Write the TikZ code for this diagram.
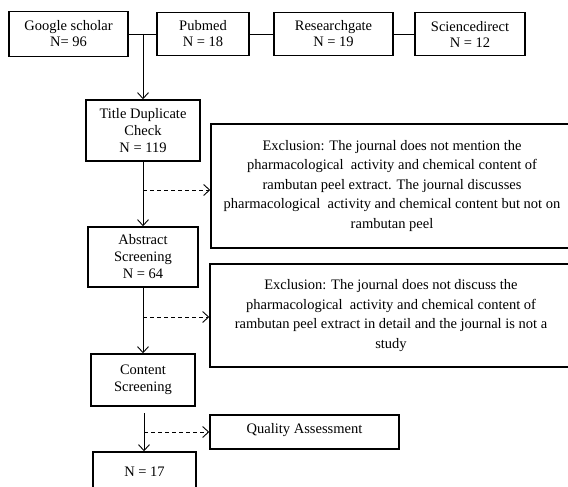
\documentclass[tikz,border=0pt]{standalone}
\usepackage{fontspec}
\setmainfont{Liberation Serif}
\usetikzlibrary{arrows.meta}

\tikzset{
  srcbox/.style={draw, line width=1.5pt, align=center, inner sep=0pt,
    font=\fontsize{14.5}{16}\selectfont},
  stagebox/.style={draw, line width=1.5pt, align=center, inner sep=0pt,
    font=\fontsize{14.5}{17}\selectfont},
  exclbox/.style={draw, line width=1.5pt, align=center, inner sep=0pt,
    font=\fontsize{14.5}{19.5}\selectfont},
  link/.style={line width=0.9pt},
  flow/.style={line width=0.9pt, -{Straight Barb[length=6pt,width=11pt]}},
  exflow/.style={flow, dash pattern=on 4pt off 3pt},
}

\begin{document}
\begin{tikzpicture}[x=1pt,y=-1pt]
  \fill[white] (0,0) rectangle (568,487);
  \clip (0,0) rectangle (568,487);

  \node[srcbox, minimum width=119pt, minimum height=45pt] (google) at (68.5,34) {Google scholar\\N= 96};
  \node[srcbox, minimum width=92pt, minimum height=43pt] (pubmed) at (203,34) {Pubmed\\N = 18};
  \node[srcbox, minimum width=119pt, minimum height=43pt] (research) at (333.5,34) {Researchgate\\N = 19};
  \node[srcbox, minimum width=110pt, minimum height=43pt] (science) at (470,34) {Sciencedirect\\N = 12};

  \draw[link] (google) -- (pubmed);
  \draw[link] (pubmed) -- (research);
  \draw[link] (research) -- (science);

  \node[stagebox, minimum width=114pt, minimum height=61pt] (title) at (143,130.5) {Title Duplicate\\Check\\N = 119};
  \node[stagebox, minimum width=110pt, minimum height=60pt] (abstract) at (143,257) {Abstract\\Screening\\N = 64};
  \node[stagebox, minimum width=104pt, minimum height=52pt] (content) at (143,380) {Content\\Screening};
  \node[stagebox, minimum width=103pt, minimum height=40pt] (final) at (144.5,472) {N = 17};

  \node[exclbox, minimum width=362pt, minimum height=124pt] (excl1) at (392,186)
    {Exclusion: The journal does not mention the\\pharmacological\ \ activity and chemical content of\\rambutan peel extract. The journal discusses\\pharmacological\ \ activity and chemical content but not on\\rambutan peel};
  \node[exclbox, minimum width=362pt, minimum height=103pt] (excl2) at (391,315.5)
    {Exclusion: The journal does not discuss the\\pharmacological\ \ activity and chemical content of\\rambutan peel extract in detail and the journal is not a\\study};
  \node[stagebox, minimum width=189pt, text height=14pt, text depth=12pt, inner ysep=4pt] (quality) at (304.5,432) {Quality Assessment};

  \coordinate (join) at (143,34);
  \draw[flow] (join) -- (title);
  \draw[flow] (title) -- (abstract);
  \draw[flow] (abstract) -- (content);
  \coordinate (qstart) at (144,413);
  \draw[flow] (qstart) -- (qstart |- final.north);

  \coordinate (d1) at (143,190);
  \coordinate (d2) at (143,317);
  \coordinate (d3) at (144,432);
  \draw[exflow] (d1) -- (d1 -| excl1.west);
  \draw[exflow] (d2) -- (d2 -| excl2.west);
  \draw[exflow] (d3) -- (quality.west);
\end{tikzpicture}
\end{document}
